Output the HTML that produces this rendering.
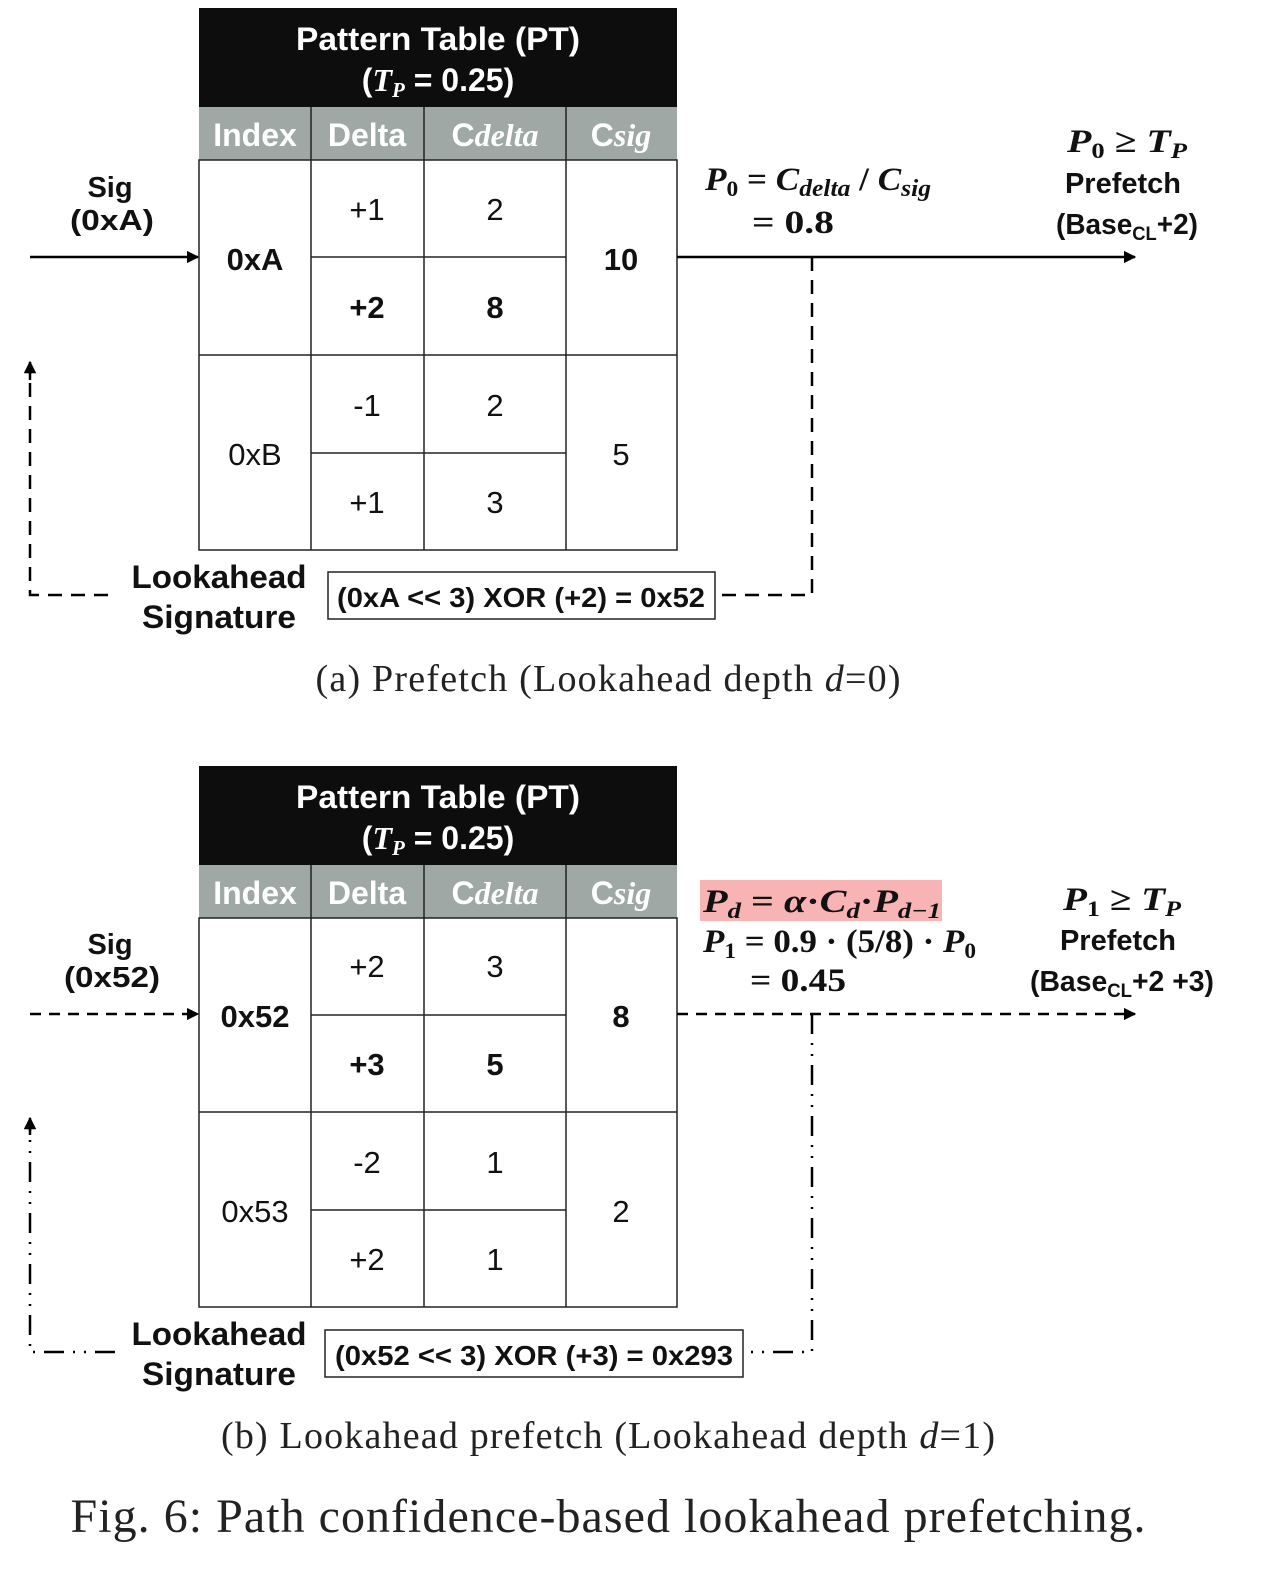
<!DOCTYPE html>
<html><head><meta charset="utf-8"><style>
html,body{margin:0;padding:0;background:#fff;}
svg{display:block;}
.sans{font-family:"Liberation Sans",Arial,sans-serif;}
.b{font-weight:bold;}
.ser{font-family:"Liberation Serif","DejaVu Serif",serif;}
</style></head><body>
<svg width="1261" height="1577" viewBox="0 0 1261 1577" xmlns="http://www.w3.org/2000/svg">
<defs>
<marker id="ah" viewBox="0 0 10 10" refX="9" refY="5" markerWidth="5" markerHeight="5" orient="auto"><path d="M0,0 L10,5 L0,10 z" fill="#000"/></marker>
</defs>

<!-- ===== Panel A ===== -->
<g>
<rect x="199" y="8" width="478" height="99" fill="#0d0d0d"/>
<text x="438" y="50" text-anchor="middle" fill="#fff" class="sans b" font-size="32" textLength="284" lengthAdjust="spacingAndGlyphs">Pattern Table (PT)</text>
<text x="438" y="91" text-anchor="middle" fill="#fff" class="sans b" font-size="32">(<tspan class="ser" font-style="italic">T</tspan><tspan class="ser" font-style="italic" font-size="21" dy="6">P</tspan><tspan dy="-6"> = 0.25)</tspan></text>
<rect x="199" y="107" width="478" height="53" fill="#9fa8a5"/>
<g class="sans b" font-size="32" fill="#fff" text-anchor="middle">
<text x="255" y="146">Index</text>
<text x="367" y="146">Delta</text>
<text x="495" y="146">C<tspan class="ser" font-style="italic">delta</tspan></text>
<text x="621" y="146">C<tspan class="ser" font-style="italic">sig</tspan></text>
</g>
<rect x="199" y="160" width="478" height="390" fill="#fff" stroke="#222" stroke-width="1.5"/>
<g stroke="#222" stroke-width="1.5">
<line x1="311" y1="107" x2="311" y2="550"/><line x1="424" y1="107" x2="424" y2="550"/><line x1="566" y1="107" x2="566" y2="550"/>
<line x1="311" y1="257" x2="566" y2="257"/><line x1="311" y1="453" x2="566" y2="453"/><line x1="199" y1="355" x2="677" y2="355"/>
</g>
<g class="sans" font-size="31" text-anchor="middle" fill="#111">
<text x="255" y="270" class="b">0xA</text>
<text x="255" y="465">0xB</text>
<text x="367" y="220">+1</text>
<text x="367" y="318" class="b">+2</text>
<text x="367" y="416">-1</text>
<text x="367" y="513">+1</text>
<text x="495" y="220">2</text>
<text x="495" y="318" class="b">8</text>
<text x="495" y="416">2</text>
<text x="495" y="513">3</text>
<text x="621" y="270" class="b">10</text>
<text x="621" y="465">5</text>
</g>
<g class="sans b" font-size="29" text-anchor="middle" fill="#111">
<text x="110" y="197">Sig</text>
<text x="112" y="230" textLength="84" lengthAdjust="spacingAndGlyphs">(0xA)</text>
<text x="219" y="588" font-size="32" textLength="175" lengthAdjust="spacingAndGlyphs">Lookahead</text>
<text x="219" y="628" font-size="32" textLength="154" lengthAdjust="spacingAndGlyphs">Signature</text>
</g>
<line x1="30" y1="257" x2="198" y2="257" stroke="#000" stroke-width="2.5" marker-end="url(#ah)"/>
<path d="M108,595 L30,595 L30,368" fill="none" stroke="#000" stroke-width="2.5" stroke-dasharray="14 9"/>
<line x1="30" y1="380" x2="30" y2="362" stroke="#000" stroke-width="2.5" marker-end="url(#ah)"/>
<rect x="328" y="572" width="387" height="47" fill="#fff" stroke="#222" stroke-width="1.5"/>
<text x="521" y="607" text-anchor="middle" class="sans b" font-size="28" textLength="368" lengthAdjust="spacingAndGlyphs" fill="#111">(0xA &lt;&lt; 3) XOR (+2) = 0x52</text>
<path d="M812,257 L812,595 L716,595" fill="none" stroke="#000" stroke-width="2.5" stroke-dasharray="14 9"/>
<line x1="677" y1="257" x2="1135" y2="257" stroke="#000" stroke-width="2.5" marker-end="url(#ah)"/>
<g class="ser b" font-size="33" fill="#111">
<text x="705" y="190" textLength="226" lengthAdjust="spacingAndGlyphs"><tspan font-style="italic">P</tspan><tspan font-size="22" dy="6">0</tspan><tspan dy="-6">  =  </tspan><tspan font-style="italic">C</tspan><tspan font-style="italic" font-size="24" dy="6">delta</tspan><tspan dy="-6"> / </tspan><tspan font-style="italic">C</tspan><tspan font-style="italic" font-size="24" dy="6">sig</tspan></text>
<text x="752" y="233" textLength="82" lengthAdjust="spacingAndGlyphs">= 0.8</text>
<text x="1127" y="152" text-anchor="middle" textLength="120" lengthAdjust="spacingAndGlyphs"><tspan font-style="italic">P</tspan><tspan font-size="22" dy="6">0</tspan><tspan dy="-6"> ≥ </tspan><tspan font-style="italic">T</tspan><tspan font-style="italic" font-size="22" dy="6">P</tspan></text>
</g>
<g class="sans b" font-size="29" fill="#111" text-anchor="middle">
<text x="1123" y="193">Prefetch</text>
<text x="1127" y="234" textLength="142" lengthAdjust="spacingAndGlyphs">(Base<tspan font-size="19" dy="6">CL</tspan><tspan dy="-6">+2)</tspan></text>
</g>
<text x="608" y="691" text-anchor="middle" class="ser" font-size="38" textLength="585" lengthAdjust="spacing" fill="#222">(a) Prefetch (Lookahead depth <tspan font-style="italic">d</tspan>=0)</text>
</g>

<!-- ===== Panel B ===== -->
<g>
<rect x="199" y="766" width="478" height="99" fill="#0d0d0d"/>
<text x="438" y="808" text-anchor="middle" fill="#fff" class="sans b" font-size="32" textLength="284" lengthAdjust="spacingAndGlyphs">Pattern Table (PT)</text>
<text x="438" y="849" text-anchor="middle" fill="#fff" class="sans b" font-size="32">(<tspan class="ser" font-style="italic">T</tspan><tspan class="ser" font-style="italic" font-size="21" dy="6">P</tspan><tspan dy="-6"> = 0.25)</tspan></text>
<rect x="199" y="865" width="478" height="53" fill="#9fa8a5"/>
<g class="sans b" font-size="32" fill="#fff" text-anchor="middle">
<text x="255" y="904">Index</text>
<text x="367" y="904">Delta</text>
<text x="495" y="904">C<tspan class="ser" font-style="italic">delta</tspan></text>
<text x="621" y="904">C<tspan class="ser" font-style="italic">sig</tspan></text>
</g>
<rect x="199" y="918" width="478" height="389" fill="#fff" stroke="#222" stroke-width="1.5"/>
<g stroke="#222" stroke-width="1.5">
<line x1="311" y1="865" x2="311" y2="1307"/><line x1="424" y1="865" x2="424" y2="1307"/><line x1="566" y1="865" x2="566" y2="1307"/>
<line x1="311" y1="1015" x2="566" y2="1015"/><line x1="311" y1="1210" x2="566" y2="1210"/><line x1="199" y1="1112" x2="677" y2="1112"/>
</g>
<g class="sans" font-size="31" text-anchor="middle" fill="#111">
<text x="255" y="1027" class="b">0x52</text>
<text x="255" y="1222">0x53</text>
<text x="367" y="977">+2</text>
<text x="367" y="1075" class="b">+3</text>
<text x="367" y="1173">-2</text>
<text x="367" y="1270">+2</text>
<text x="495" y="977">3</text>
<text x="495" y="1075" class="b">5</text>
<text x="495" y="1173">1</text>
<text x="495" y="1270">1</text>
<text x="621" y="1027" class="b">8</text>
<text x="621" y="1222">2</text>
</g>
<g class="sans b" font-size="29" text-anchor="middle" fill="#111">
<text x="110" y="954">Sig</text>
<text x="112" y="987" textLength="96" lengthAdjust="spacingAndGlyphs">(0x52)</text>
<text x="219" y="1345" font-size="32" textLength="175" lengthAdjust="spacingAndGlyphs">Lookahead</text>
<text x="219" y="1385" font-size="32" textLength="154" lengthAdjust="spacingAndGlyphs">Signature</text>
</g>
<line x1="30" y1="1014" x2="198" y2="1014" stroke="#000" stroke-width="2.5" stroke-dasharray="11 8" marker-end="url(#ah)"/>
<path d="M115,1352 L30,1352 L30,1125" fill="none" stroke="#000" stroke-width="2.5" stroke-dasharray="20 9 2 9 2 9"/>
<line x1="30" y1="1135" x2="30" y2="1118" stroke="#000" stroke-width="2.5" marker-end="url(#ah)"/>
<rect x="325" y="1330" width="418" height="47" fill="#fff" stroke="#222" stroke-width="1.5"/>
<text x="534" y="1365" text-anchor="middle" class="sans b" font-size="28" textLength="398" lengthAdjust="spacingAndGlyphs" fill="#111">(0x52 &lt;&lt; 3) XOR (+3) = 0x293</text>
<path d="M812,1014 L812,1352 L744,1352" fill="none" stroke="#000" stroke-width="2.5" stroke-dasharray="20 9 2 9 2 9"/>
<line x1="677" y1="1014" x2="1135" y2="1014" stroke="#000" stroke-width="2.5" stroke-dasharray="11 8" marker-end="url(#ah)"/>
<rect x="700" y="880" width="242" height="41" fill="#f8b4b4"/>
<g class="ser b" font-size="33" fill="#111">
<text x="703" y="912" textLength="238" lengthAdjust="spacingAndGlyphs"><tspan font-style="italic">P</tspan><tspan font-style="italic" font-size="22" dy="6">d</tspan><tspan dy="-6"> = </tspan><tspan font-style="italic">α</tspan><tspan>·</tspan><tspan font-style="italic">C</tspan><tspan font-style="italic" font-size="22" dy="6">d</tspan><tspan dy="-6">·</tspan><tspan font-style="italic">P</tspan><tspan font-style="italic" font-size="22" dy="6">d−1</tspan></text>
<text x="703" y="952" textLength="273" lengthAdjust="spacingAndGlyphs"><tspan font-style="italic">P</tspan><tspan font-size="22" dy="6">1</tspan><tspan dy="-6"> = 0.9 · (5/8) · </tspan><tspan font-style="italic">P</tspan><tspan font-size="22" dy="6">0</tspan></text>
<text x="750" y="991" textLength="96" lengthAdjust="spacingAndGlyphs">= 0.45</text>
<text x="1122" y="910" text-anchor="middle" textLength="118" lengthAdjust="spacingAndGlyphs"><tspan font-style="italic">P</tspan><tspan font-size="22" dy="6">1</tspan><tspan dy="-6"> ≥ </tspan><tspan font-style="italic">T</tspan><tspan font-style="italic" font-size="22" dy="6">P</tspan></text>
</g>
<g class="sans b" font-size="29" fill="#111" text-anchor="middle">
<text x="1118" y="950">Prefetch</text>
<text x="1122" y="991" textLength="184" lengthAdjust="spacingAndGlyphs">(Base<tspan font-size="19" dy="6">CL</tspan><tspan dy="-6">+2 +3)</tspan></text>
</g>
<text x="608" y="1448" text-anchor="middle" class="ser" font-size="38" textLength="774" lengthAdjust="spacing" fill="#222">(b) Lookahead prefetch (Lookahead depth <tspan font-style="italic">d</tspan>=1)</text>
</g>

<text x="608" y="1532" text-anchor="middle" class="ser" font-size="48" textLength="1075" lengthAdjust="spacing" fill="#222">Fig. 6: Path confidence-based lookahead prefetching.</text>
</svg>
</body></html>
